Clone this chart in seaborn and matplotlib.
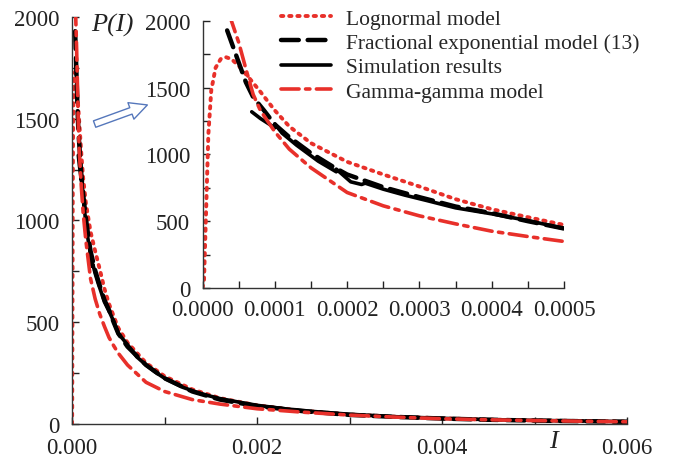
import pandas as pd
import matplotlib
matplotlib.use('Agg')
import matplotlib.pyplot as plt
from matplotlib.ticker import MultipleLocator, FormatStrFormatter
import seaborn as sns

# Lognormal model
logn_x = [0, 0.000002, 0.000005, 0.000008, 0.000012, 0.000018, 0.000025, 0.000032,
          0.00004, 0.00005, 0.000065, 0.00008, 0.0001, 0.00012, 0.00015, 0.0002,
          0.00025, 0.0003, 0.00035, 0.0004, 0.00045, 0.0005, 0.0006, 0.0008, 0.001,
          0.0013, 0.0016, 0.002, 0.0025, 0.003, 0.0035, 0.004, 0.0045, 0.005, 0.0055, 0.006]
logn_y = [0, 60, 600, 1150, 1480, 1650, 1715, 1730,
          1715, 1665, 1570, 1470, 1330, 1210, 1085, 945,
          850, 760, 665, 590, 530, 472, 400, 300, 235,
          170, 127, 92, 65, 47, 36, 28, 22, 18, 15, 12]

# Fractional exponential model (13)
frac_x = [0.000034, 0.00004, 0.00005, 0.00006, 0.00007, 0.000085, 0.0001, 0.00012,
          0.00015, 0.00018, 0.0002, 0.00025, 0.0003, 0.00035, 0.0004, 0.00045, 0.0005,
          0.0006, 0.0008, 0.001, 0.0013, 0.0016, 0.002, 0.0025, 0.003, 0.0035, 0.004,
          0.0045, 0.005, 0.0055, 0.006]
frac_y = [1930, 1840, 1690, 1540, 1430, 1330, 1225, 1130,
          1010, 910, 850, 755, 680, 610, 560, 500, 445,
          380, 290, 225, 160, 120, 88, 63, 45, 35, 27,
          21, 17, 14, 11]

# Simulation results (histogram-like, small steps)
sim_x = [0.000068, 0.00008, 0.0001, 0.0001, 0.00011, 0.00013, 0.00016, 0.000185, 0.000185,
         0.000205, 0.00022, 0.000225, 0.00025, 0.00028, 0.00031, 0.00035, 0.0004, 0.00045,
         0.0005, 0.0006, 0.0007, 0.0008, 0.0009, 0.001, 0.0012, 0.0014, 0.0016, 0.0018,
         0.002, 0.0023, 0.0026, 0.003, 0.0035, 0.004, 0.0045, 0.005, 0.0055, 0.006]
sim_y = [1320, 1270, 1200, 1230, 1160, 1070, 950, 870, 890,
         795, 775, 785, 740, 695, 655, 600, 555, 505,
         445, 390, 330, 290, 255, 225, 180, 148, 125, 108,
         92, 75, 62, 48, 36, 28, 22, 18, 15, 12]

# Gamma-gamma model
gg_x = [0.000038, 0.00004, 0.00005, 0.00006, 0.00007, 0.00008, 0.0001, 0.00012,
        0.00015, 0.0002, 0.00025, 0.0003, 0.00035, 0.0004, 0.00045, 0.0005, 0.0006,
        0.0008, 0.001, 0.0013, 0.0016, 0.002, 0.0025, 0.003, 0.0035, 0.004, 0.0045,
        0.005, 0.0055, 0.006]
gg_y = [2050, 2000, 1840, 1640, 1450, 1330, 1170, 1040,
        900, 715, 615, 540, 480, 425, 385, 348, 290,
        205, 160, 120, 98, 75, 58, 44, 34, 26, 21,
        17, 14, 11]

RED = "#e8302a"
series = [
    ("Lognormal model", logn_x, logn_y, RED, (0, (0.6, 1.5)), 2.8),
    ("Fractional exponential model (13)", frac_x, frac_y, "black", (0, (4, 2)), 3.2),
    ("Simulation results", sim_x, sim_y, "black", "-", 2.6),
    ("Gamma-gamma model", gg_x, gg_y, RED, (0, (5, 1.8, 1.2, 1.8)), 2.6),
]

sns.set_theme(style="ticks")
plt.rcParams['font.family'] = ['Liberation Serif', 'DejaVu Serif']
plt.rcParams['axes.linewidth'] = 1.0
plt.rcParams['axes.edgecolor'] = '#333333'

fig = plt.figure(figsize=(6.73, 4.60), dpi=100)
ax = fig.add_axes([0.107, 0.076, 0.825, 0.885])
ins = fig.add_axes([0.301, 0.372, 0.537, 0.580])


def draw(a):
    for name, xs, ys, color, ls, lw in series:
        df = pd.DataFrame({"I": xs, "P": ys})
        sns.lineplot(data=df, x="I", y="P", ax=a, color=color, linewidth=lw,
                     linestyle=ls, sort=False, estimator=None, label=name,
                     legend=False, dash_capstyle="round")
    a.set_xlabel("")
    a.set_ylabel("")
    sns.despine(ax=a)
    a.tick_params(which="both", direction="in", labelsize=16.5, colors="#222222")
    a.tick_params(which="both", length=5, width=1)
    a.set_ylim(0, 2000)
    a.yaxis.set_major_locator(MultipleLocator(500))
    a.yaxis.set_minor_locator(MultipleLocator(250))
    a.patch.set_alpha(0)


draw(ax)
ax.set_xlim(0, 0.006)
ax.xaxis.set_major_locator(MultipleLocator(0.002))
ax.xaxis.set_minor_locator(MultipleLocator(0.001))
ax.xaxis.set_major_formatter(FormatStrFormatter("%.3f"))
ax.tick_params(axis="x", pad=9)
ax.tick_params(axis="y", pad=9)

draw(ins)
ins.set_xlim(0, 0.0005)
ins.xaxis.set_major_locator(MultipleLocator(0.0001))
ins.xaxis.set_minor_locator(MultipleLocator(0.00005))
ins.xaxis.set_major_formatter(FormatStrFormatter("%.4f"))
ins.tick_params(axis="x", pad=8)
ins.tick_params(axis="y", pad=9)

handles, labels = ins.get_legend_handles_labels()
fig.legend(handles, labels, loc="upper left", bbox_to_anchor=(0.405, 0.998),
           frameon=False, fontsize=15.5, handlelength=2.3, handletextpad=0.7,
           labelspacing=0.2, borderaxespad=0)

fig.text(0.136, 0.945, "P(I)", fontsize=19, fontstyle="italic", va="center",
         ha="left", color="#222222")
fig.text(0.822, 0.040, "I", fontsize=19, fontstyle="italic", va="center",
         ha="center", color="#222222")

# hollow arrow pointing from the main curve to the inset
fig.patches.append(matplotlib.patches.FancyArrowPatch(
    (92 / 673, 1 - 126 / 460), (150 / 673, 1 - 105 / 460),
    transform=fig.transFigure, arrowstyle="simple,head_width=0.9,head_length=0.9,tail_width=0.35",
    mutation_scale=14, fc="white", ec="#5577bb", lw=1.0))

fig.savefig("out.png", dpi=100)
